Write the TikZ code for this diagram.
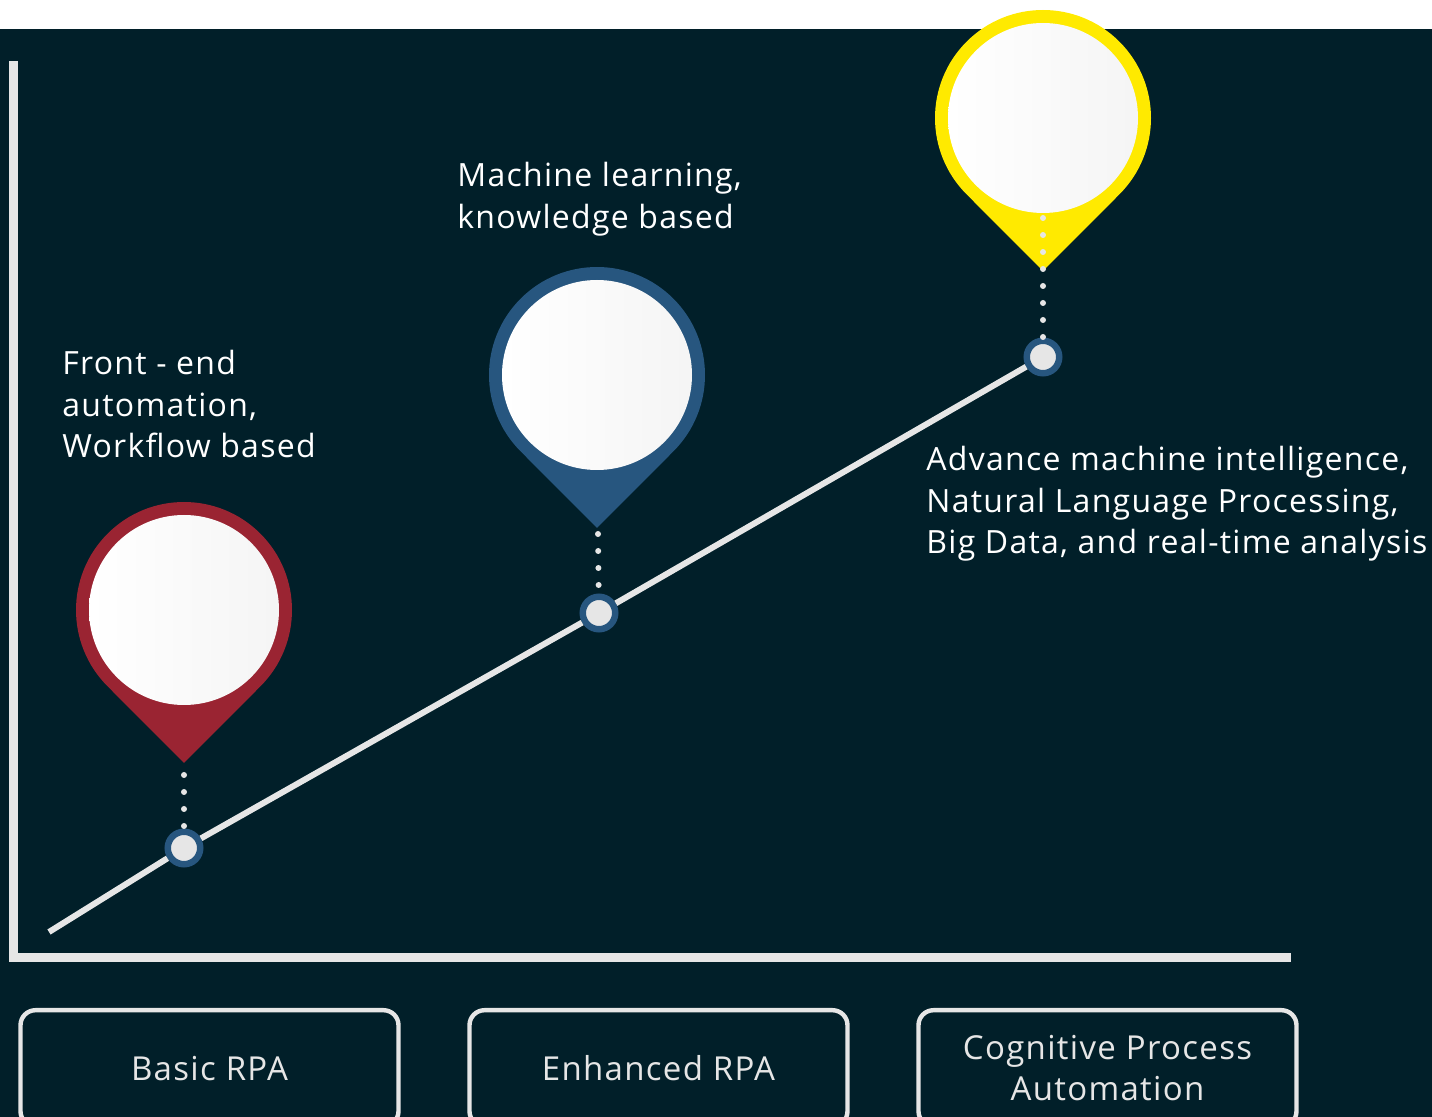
\documentclass[tikz,border=0pt]{standalone}
\usepackage{fontspec}
\setmainfont{Open Sans}[LetterSpace=4]
\definecolor{bgdark}{HTML}{011F29}
\definecolor{pinred}{HTML}{9A2432}
\definecolor{pinblue}{HTML}{27567F}
\definecolor{pinyellow}{HTML}{FFEA00}
\definecolor{lightline}{HTML}{E6E6E6}
\tikzset{
  pics/marker/.style={code={
    \fill[#1] (0,153) -- (45:108) arc[start angle=45, end angle=-225, radius=108] -- cycle;
    \shade[left color=white, right color=gray!8] (0,0) circle[radius=95];
  }},
  dotnode/.style={circle, fill=lightline, draw=pinblue, line width=3.25pt, minimum size=16.25pt, inner sep=0pt},
  dotline/.style={lightline, line width=3pt, line cap=round, dash pattern=on 0pt off 8.5pt},
  note/.style={white, align=left, inner sep=0pt, anchor=north west, font=\fontsize{16}{20.75}\selectfont},
  stage/.style={draw=lightline, line width=2.2pt, rounded corners=7.5pt, anchor=north,
    minimum width=189pt, minimum height=58pt, align=center, text=lightline,
    font=\fontsize{16.5}{20.5}\selectfont}
}
\begin{document}
\begin{tikzpicture}[x=0.5pt, y=-0.5pt]
  \useasboundingbox (0,0) rectangle (1432,1117);
  \fill[white]  (0,0) rectangle (1432,29);
  \fill[bgdark] (0,29) rectangle (1432,1117);

  % axes
  \draw[lightline, line width=4.5pt, line join=miter] (13.5,61) -- (13.5,957.5) -- (1291,957.5);

  % markers
  \pic at (184,610)  {marker=pinred};
  \pic at (597,375)  {marker=pinblue};
  \pic at (1043,118) {marker=pinyellow};

  % points on the line
  \node[dotnode] (d1) at (184,848) {};
  \node[dotnode] (d2) at (599,613) {};
  \node[dotnode] (d3) at (1043,357) {};
  \coordinate (s)  at (49,932);
  \coordinate (t1) at (184,775);
  \coordinate (t2) at (598,534);
  \coordinate (t3) at (1043,218);

  \draw[lightline, line width=3pt] (s) -- (d1) -- (d2) -- (d3);
  \draw[dotline] (t1) -- (d1);
  \draw[dotline] (t2) -- (d2);
  \draw[dotline] (t3) -- (d3);

  % texts
  \node[note] (front)   at (62,350)  {Front - end\\automation,\\Workflow based};
  \node[note] (machine) at (457,162) {Machine learning,\\knowledge based};
  \node[note] (advance) at (926,446) {Advance machine intelligence,\\Natural Language Processing,\\Big Data, and real-time analysis};

  % stages
  \node[stage] (basic)     at (209.5,1008) {Basic RPA};
  \node[stage] (enhanced)  at (658.5,1008) {Enhanced RPA};
  \node[stage] (cognitive) at (1107.5,1008) {Cognitive Process\\Automation};
\end{tikzpicture}
\end{document}
